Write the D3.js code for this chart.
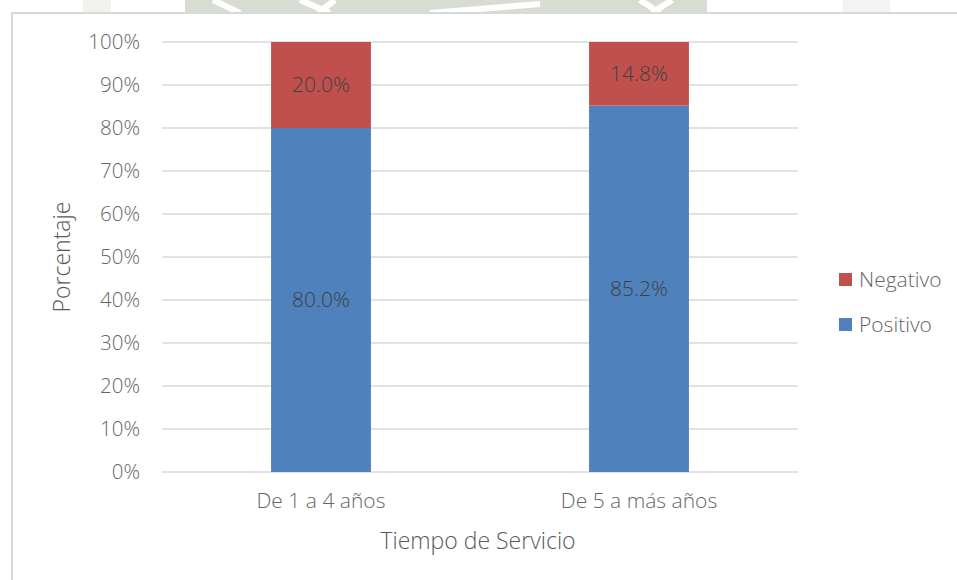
<!DOCTYPE html>
<html>
<head>
<meta charset="utf-8">
<script src="https://cdnjs.cloudflare.com/ajax/libs/d3/7.8.5/d3.min.js"></script>
<style>
	body { margin: 0; background: #fff; }
	svg text { font-family: 'Open Sans', 'Noto Sans', sans-serif; }
</style>
</head>
<body>
<svg id="chart" width="957" height="580"></svg>
<script>
var categories = ['De 1 a 4 años', 'De 5 a más años'];
var seriesNames = ['Positivo', 'Negativo'];
var positivo = [80.0, 85.2];
var negativo = [20.0, 14.8];
var yTicks = [0, 10, 20, 30, 40, 50, 60, 70, 80, 90, 100];
var colors = { Positivo: '#4f81bd', Negativo: '#c0504d' };

var svg = d3.select('#chart');
var width = 957, height = 580;

// faint watermark showing above the frame
var wm = svg.append('g').attr('class', 'watermark');
wm.append('rect').attr('x', 185).attr('y', 0).attr('width', 522).attr('height', 13).attr('fill', '#d8ddd4');
wm.append('rect').attr('x', 83).attr('y', 0).attr('width', 28).attr('height', 13).attr('fill', '#f0f2ee');
wm.append('rect').attr('x', 843).attr('y', 0).attr('width', 47).attr('height', 13).attr('fill', '#f3f4f1');
[[213, 0, 240, 13], [300, 0, 330, 13], [318, 13, 335, 0], [430, 13, 540, 4], [640, 0, 660, 13], [652, 13, 672, 0]].forEach(function(l) {
	wm.append('line').attr('x1', l[0]).attr('y1', l[1]).attr('x2', l[2]).attr('y2', l[3])
		.attr('stroke', '#fff').attr('stroke-width', 6);
});

// chart frame
svg.append('rect')
	.attr('x', 12).attr('y', 13)
	.attr('width', 960).attr('height', 600)
	.attr('fill', '#fff')
	.attr('stroke', '#d9d9d9')
	.attr('stroke-width', 2);

var plot = { left: 162, right: 798, top: 42, bottom: 472 };

var x = d3.scaleBand()
	.domain(categories)
	.range([plot.left, plot.right])
	.paddingInner(0.686)
	.paddingOuter(0.343);

var y = d3.scaleLinear()
	.domain([0, 100])
	.range([plot.bottom, plot.top]);

// gridlines
svg.append('g').selectAll('line').data(yTicks).enter().append('line')
	.attr('x1', plot.left).attr('x2', plot.right)
	.attr('y1', function(d) { return y(d); })
	.attr('y2', function(d) { return y(d); })
	.attr('stroke', '#d9d9d9')
	.attr('stroke-width', 1.5);

// y axis labels
var yAxis = d3.axisLeft(y).tickValues(yTicks).tickSize(0).tickPadding(22)
	.tickFormat(function(d) { return d + '%'; });
var yg = svg.append('g').attr('transform', 'translate(' + plot.left + ',0)').call(yAxis);
yg.select('.domain').remove();
yg.selectAll('text').attr('fill', '#666').style('font-size', '20.5px').style('font-weight', 300);

// x axis labels
var xAxis = d3.axisBottom(x).tickSize(0).tickPadding(21);
var xg = svg.append('g').attr('transform', 'translate(0,' + plot.bottom + ')').call(xAxis);
xg.select('.domain').remove();
xg.selectAll('text').attr('fill', '#666').style('font-size', '21px').style('font-weight', 300);

// stacked bars
var rows = categories.map(function(c, i) { return { cat: c, Positivo: positivo[i], Negativo: negativo[i] }; });
var stack = d3.stack().keys(seriesNames)(rows);

var layers = svg.append('g').selectAll('g').data(stack).enter().append('g')
	.attr('fill', function(d) { return colors[d.key]; });

layers.selectAll('rect').data(function(d) { return d; }).enter().append('rect')
	.attr('x', function(d) { return x(d.data.cat); })
	.attr('width', x.bandwidth())
	.attr('y', function(d) { return y(d[1]); })
	.attr('height', function(d) { return y(d[0]) - y(d[1]); });

layers.selectAll('text').data(function(d) { return d; }).enter().append('text')
	.attr('x', function(d) { return x(d.data.cat) + x.bandwidth() / 2; })
	.attr('y', function(d) { return (y(d[0]) + y(d[1])) / 2; })
	.attr('dy', '0.35em')
	.attr('text-anchor', 'middle')
	.attr('fill', '#404040')
	.style('font-size', '21px')
	.style('font-weight', 300)
	.text(function(d) { return (d[1] - d[0]).toFixed(1) + '%'; });

// axis titles
svg.append('text')
	.attr('transform', 'translate(70,' + ((plot.top + plot.bottom) / 2) + ') rotate(-90)')
	.attr('text-anchor', 'middle')
	.attr('fill', '#595959')
	.style('font-size', '23px')
	.style('font-weight', 300)
	.text('Porcentaje');

svg.append('text')
	.attr('x', (plot.left + plot.right) / 2 - 2)
	.attr('y', 549)
	.attr('text-anchor', 'middle')
	.attr('fill', '#595959')
	.style('font-size', '23px')
	.style('font-weight', 300)
	.text('Tiempo de Servicio');

// legend (Negativo on top)
var legend = svg.append('g').attr('transform', 'translate(839,273)');
seriesNames.slice().reverse().forEach(function(name, i) {
	var item = legend.append('g').attr('transform', 'translate(0,' + (i * 45) + ')');
	item.append('rect').attr('width', 13).attr('height', 13).attr('fill', colors[name]);
	item.append('text').attr('x', 20).attr('y', 6.5).attr('dy', '0.35em')
		.attr('fill', '#666').style('font-size', '21px').style('font-weight', 300).text(name);
});
</script>
</body>
</html>
